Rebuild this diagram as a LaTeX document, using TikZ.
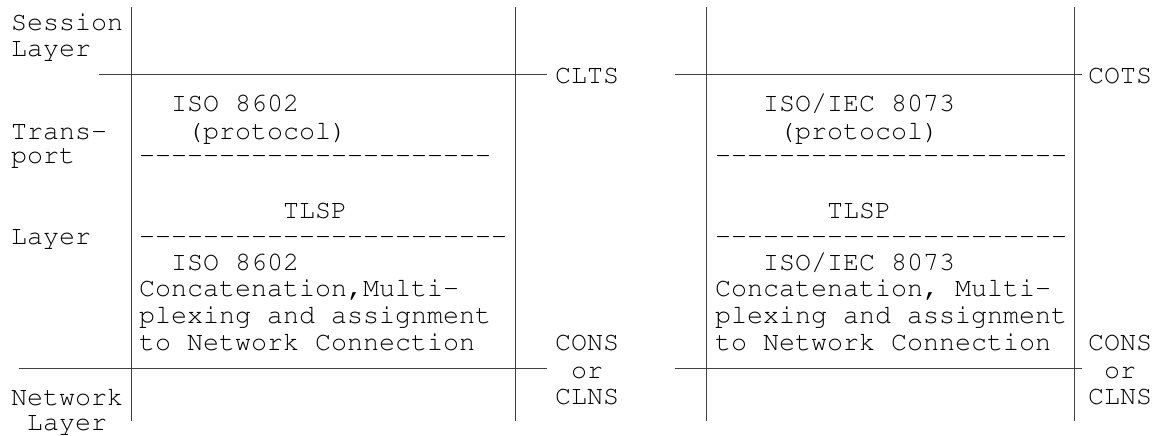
\documentclass[tikz,border=0pt]{standalone}
\usepackage[T1]{fontenc}
\begin{document}
\begin{tikzpicture}[x=1pt,y=-1pt,
  txt/.style={anchor=base west,inner sep=0pt,outer sep=0pt,font=\fontencoding{T1}\fontfamily{pcr}\fontseries{m}\fontshape{n}\fontsize{26.67}{30}\selectfont},
  rule/.style={draw=black!75,line width=1pt}]
\useasboundingbox (0,0) rectangle (1167,436);
% left column labels
\node[txt] (sess) at (11,30.7) {Session};
\node[txt] (lay1) at (11,56.7) {Layer};
\node[txt] (trans) at (11,139.3) {Trans-};
\node[txt] (port) at (11,163) {port};
\node[txt] (lay2) at (11,244.5) {Layer};
\node[txt] (net) at (11,405) {Network};
\node[txt] (lay3) at (27,430) {Layer};
% box 1 (CLTS)
\node[txt] (a1) at (171,111.7) {ISO 8602};
\node[txt] (a2) at (187,139.3) {(protocol)};
\node[txt] (a3) at (139,163) {-{}-{}-{}-{}-{}-{}-{}-{}-{}-{}-{}-{}-{}-{}-{}-{}-{}-{}-{}-{}-{}-};
\node[txt] (a4) at (283,218.3) {TLSP};
\node[txt] (a5) at (139,244.5) {-{}-{}-{}-{}-{}-{}-{}-{}-{}-{}-{}-{}-{}-{}-{}-{}-{}-{}-{}-{}-{}-{}-};
\node[txt] (a6) at (171,270) {ISO 8602};
\node[txt] (a7) at (139,296.7) {Concatenation,Multi-};
\node[txt] (a8) at (139,323.5) {plexing and assignment};
\node[txt] (a9) at (139,350) {to Network Connection};
% box 2 (COTS)
\node[txt] (b1) at (763,111.7) {ISO/IEC 8073};
\node[txt] (b2) at (779,139.3) {(protocol)};
\node[txt] (b3) at (715,163) {-{}-{}-{}-{}-{}-{}-{}-{}-{}-{}-{}-{}-{}-{}-{}-{}-{}-{}-{}-{}-{}-};
\node[txt] (b4) at (827,218.3) {TLSP};
\node[txt] (b5) at (715,244.5) {-{}-{}-{}-{}-{}-{}-{}-{}-{}-{}-{}-{}-{}-{}-{}-{}-{}-{}-{}-{}-{}-};
\node[txt] (b6) at (763,270) {ISO/IEC 8073};
\node[txt] (b7) at (715,296.7) {Concatenation, Multi-};
\node[txt] (b8) at (715,323.5) {plexing and assignment};
\node[txt] (b9) at (715,350) {to Network Connection};
% side labels
\node[txt] (clts) at (555,83.3) {CLTS};
\node[txt] (cons1) at (555,350.7) {CONS};
\node[txt] (or1) at (571,378) {or};
\node[txt] (clns1) at (555,404) {CLNS};
\node[txt] (cots) at (1088,83.3) {COTS};
\node[txt] (cons2) at (1088,350.7) {CONS};
\node[txt] (or2) at (1104,378) {or};
\node[txt] (clns2) at (1088,404) {CLNS};
% line end points
\coordinate (v1t) at (131,7.3);   \coordinate (v1b) at (131,421);
\coordinate (v2t) at (515,7.3);   \coordinate (v2b) at (515,421);
\coordinate (v3t) at (706,7.3);   \coordinate (v3b) at (706,421);
\coordinate (v4t) at (1074,7.3);  \coordinate (v4b) at (1074,421);
\coordinate (h1al) at (98.5,74.5);  \coordinate (h1ar) at (546.7,74.5);
\coordinate (h1bl) at (674.5,74.5); \coordinate (h1br) at (1082,74.5);
\coordinate (h2al) at (18.5,368.3); \coordinate (h2ar) at (546.7,368.3);
\coordinate (h2bl) at (674.5,368.3); \coordinate (h2br) at (1082,368.3);
% lines
\draw[rule] (v1t) -- (v1b);
\draw[rule] (v2t) -- (v2b);
\draw[rule] (v3t) -- (v3b);
\draw[rule] (v4t) -- (v4b);
\draw[rule] (h1al) -- (h1ar);
\draw[rule] (h1bl) -- (h1br);
\draw[rule] (h2al) -- (h2ar);
\draw[rule] (h2bl) -- (h2br);
\end{tikzpicture}
\end{document}
